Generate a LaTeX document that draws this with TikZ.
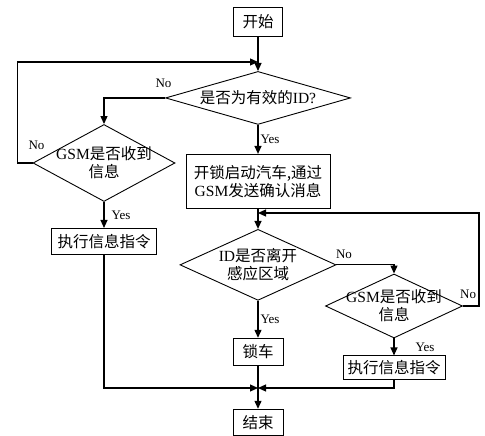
\documentclass[tikz,border=0pt]{standalone}
\usepackage{fontspec}
\setmainfont{Liberation Serif}
\newfontfamily\cjk{Noto Sans CJK SC}
\newcommand{\en}[1]{{\rmfamily #1}}
\usetikzlibrary{shapes.geometric, arrows.meta, positioning, calc}

\begin{document}
\begin{tikzpicture}[
    x=1pt, y=1pt,
    box/.style={rectangle, draw, line width=1pt, inner sep=2pt, align=center, font=\cjk\fontsize{15.5}{18}\selectfont},
    choice/.style={diamond, draw, line width=0.9pt, inner sep=-6pt, align=center, font=\cjk\fontsize{15.5}{18}\selectfont},
    arrow/.style={-{Triangle[length=8pt,width=7pt]}, line width=1.2pt},
    lbl/.style={font=\rmfamily\fontsize{13}{15}\selectfont, inner sep=1pt}
]
    \useasboundingbox (0,0) rectangle (485,436);

    % main column
    \node[box, minimum width=49pt, minimum height=29pt] (start) at (258,414) {开始};
    \node[choice, aspect=3.49, minimum width=185pt, minimum height=53pt, below=34pt of start] (valid) {是否为有效的\en{ID?}};
    \node[box, minimum width=144pt, minimum height=54pt, below=29pt of valid] (unlock) {开锁启动汽车,通过\\\en{GSM}发送确认消息};
    \node[choice, aspect=2.2, minimum width=156pt, minimum height=71pt, below=20pt of unlock] (leave) {\en{ID}是否离开\\感应区域};
    \node[box, minimum width=50pt, minimum height=27pt, below=37pt of leave] (lock) {锁车};
    \node[box, minimum width=50pt, minimum height=26pt, below=43pt of lock] (stop) {结束};

    % side branches
    \node[choice, aspect=1.84, minimum width=142pt, minimum height=77pt] (gsmL) at (104,273) {\en{GSM}是否收到\\信息};
    \node[box, minimum width=105pt, minimum height=26pt, below=26pt of gsmL] (execL) {执行信息指令};
    \node[choice, aspect=2.14, inner sep=-8pt, minimum width=137pt, minimum height=64pt] (gsmR) at (394,130) {\en{GSM}是否收到\\信息};
    \node[box, minimum width=102pt, minimum height=24pt, below=17pt of gsmR] (execR) {执行信息指令};

    % merge points
    \coordinate (m1) at (258,374);
    \coordinate (m2) at (258,223);
    \coordinate (m3) at (258,48);

    \draw[arrow] (start) -- (valid);
    \draw[arrow] (valid.west) -| (gsmL.north) node[lbl, pos=0, above left=9pt and -8pt] {No};
    \draw[arrow] (valid) -- (unlock) node[lbl, midway, right=1pt] {Yes};
    \draw[arrow] (gsmL.west) -- ++(-15,0) |- (m1);
    \node[lbl, above=12pt of gsmL.west, xshift=4pt] (noL) {No};
    \draw[arrow] (gsmL) -- (execL) node[lbl, midway, right=6pt] {Yes};

    \draw[arrow] (unlock) -- (leave);
    \draw[arrow] (leave.east) -| (gsmR.north) node[lbl, pos=0, above right=5pt and -2pt] {No};
    \draw[arrow] (gsmR.east) -- ++(16,0) |- (m2);
    \node[lbl, above right=6pt and -4pt of gsmR.east] (noR) {No};
    \draw[arrow] (leave) -- (lock) node[lbl, midway, right=1pt] {Yes};
    \draw[arrow] (gsmR) -- (execR) node[lbl, midway, right=20pt] {Yes};

    \draw[arrow] (lock) -- (stop);
    \draw[arrow] (execL.south) |- (m3);
    \draw[arrow] (execR.south) |- (m3);
\end{tikzpicture}
\end{document}
